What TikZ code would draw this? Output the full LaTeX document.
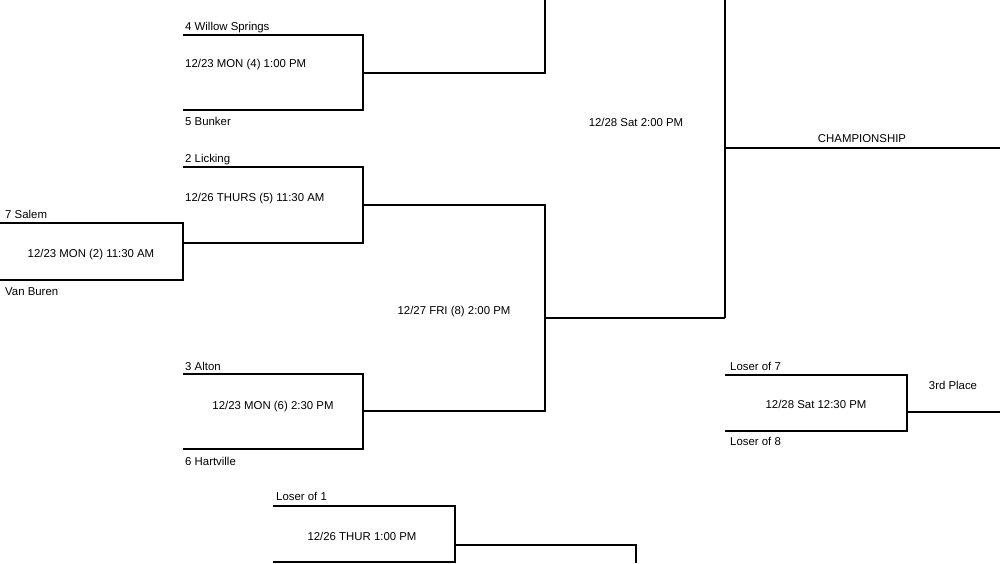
\documentclass[tikz,border=0pt]{standalone}
\usepackage{fontspec}
\setmainfont{Liberation Sans}
\begin{document}
\begin{tikzpicture}[
    x=1pt, y=-1pt,
    linea/.style  = {line width=1.6pt},
    equipo/.style = {anchor=base west, inner sep=0pt, font=\fontsize{11.4}{13}\selectfont},
    hora/.style   = {anchor=base, inner sep=0pt, font=\fontsize{11.4}{13}\selectfont},
  ]
  \useasboundingbox (0,0) rectangle (1000,563);
  % Juego 4 (arriba)
  \draw[linea] (183,35) -| (363,110) -- (183,110);
  \draw[linea] (363,73) -| (545,0);
  \node[equipo] (willow) at (185,30) {4 Willow Springs};
  \node[equipo] (g4) at (185,67) {12/23 MON (4) 1:00 PM};
  \node[equipo] (bunker) at (185,125) {5 Bunker};
  % Semifinal y final
  \node[hora] (sat) at (636,126) {12/28 Sat 2:00 PM};
  \draw[linea] (725,0) -- (725,318);
  \draw[linea] (725,148) -- (1000,148);
  \node[hora] (champ) at (862,142) {CHAMPIONSHIP};
  % Juego 5 y juego 2
  \draw[linea] (183,167) -| (363,243) -- (183,243);
  \node[equipo] (licking) at (185,162) {2 Licking};
  \node[equipo] (g5) at (185,201) {12/26 THURS (5) 11:30 AM};
  \draw[linea] (0,223) -| (183,280) -- (0,280);
  \node[equipo] (salem) at (5,218) {7 Salem};
  \node[hora] (g2) at (91,257) {12/23 MON (2) 11:30 AM};
  \node[equipo] (vanburen) at (5,295) {Van Buren};
  % Juego 8
  \draw[linea] (363,205) -| (545,411) -- (363,411);
  \draw[linea] (545,318) -- (725,318);
  \node[hora] (g8) at (454,314) {12/27 FRI (8) 2:00 PM};
  % Juego 6
  \draw[linea] (183,374) -| (363,449) -- (183,449);
  \node[equipo] (alton) at (185,370) {3 Alton};
  \node[hora] (g6) at (273,409) {12/23 MON (6) 2:30 PM};
  \node[equipo] (hartville) at (185,465) {6 Hartville};
  % Consolacion (abajo)
  \draw[linea] (273,506) -| (455,562) -- (273,562);
  \draw[linea] (455,545) -| (636,563);
  \node[equipo] (loser1) at (276,500) {Loser of 1};
  \node[hora] (thur) at (362,540) {12/26 THUR 1:00 PM};
  % Tercer lugar
  \draw[linea] (725,375) -| (907,431) -- (725,431);
  \draw[linea] (907,412) -- (1000,412);
  \node[equipo] (loser7) at (730,370) {Loser of 7};
  \node[hora] (third) at (816,408) {12/28 Sat 12:30 PM};
  \node[equipo] (loser8) at (730,445) {Loser of 8};
  \node[hora] (place) at (953,389) {3rd Place};
\end{tikzpicture}
\end{document}
